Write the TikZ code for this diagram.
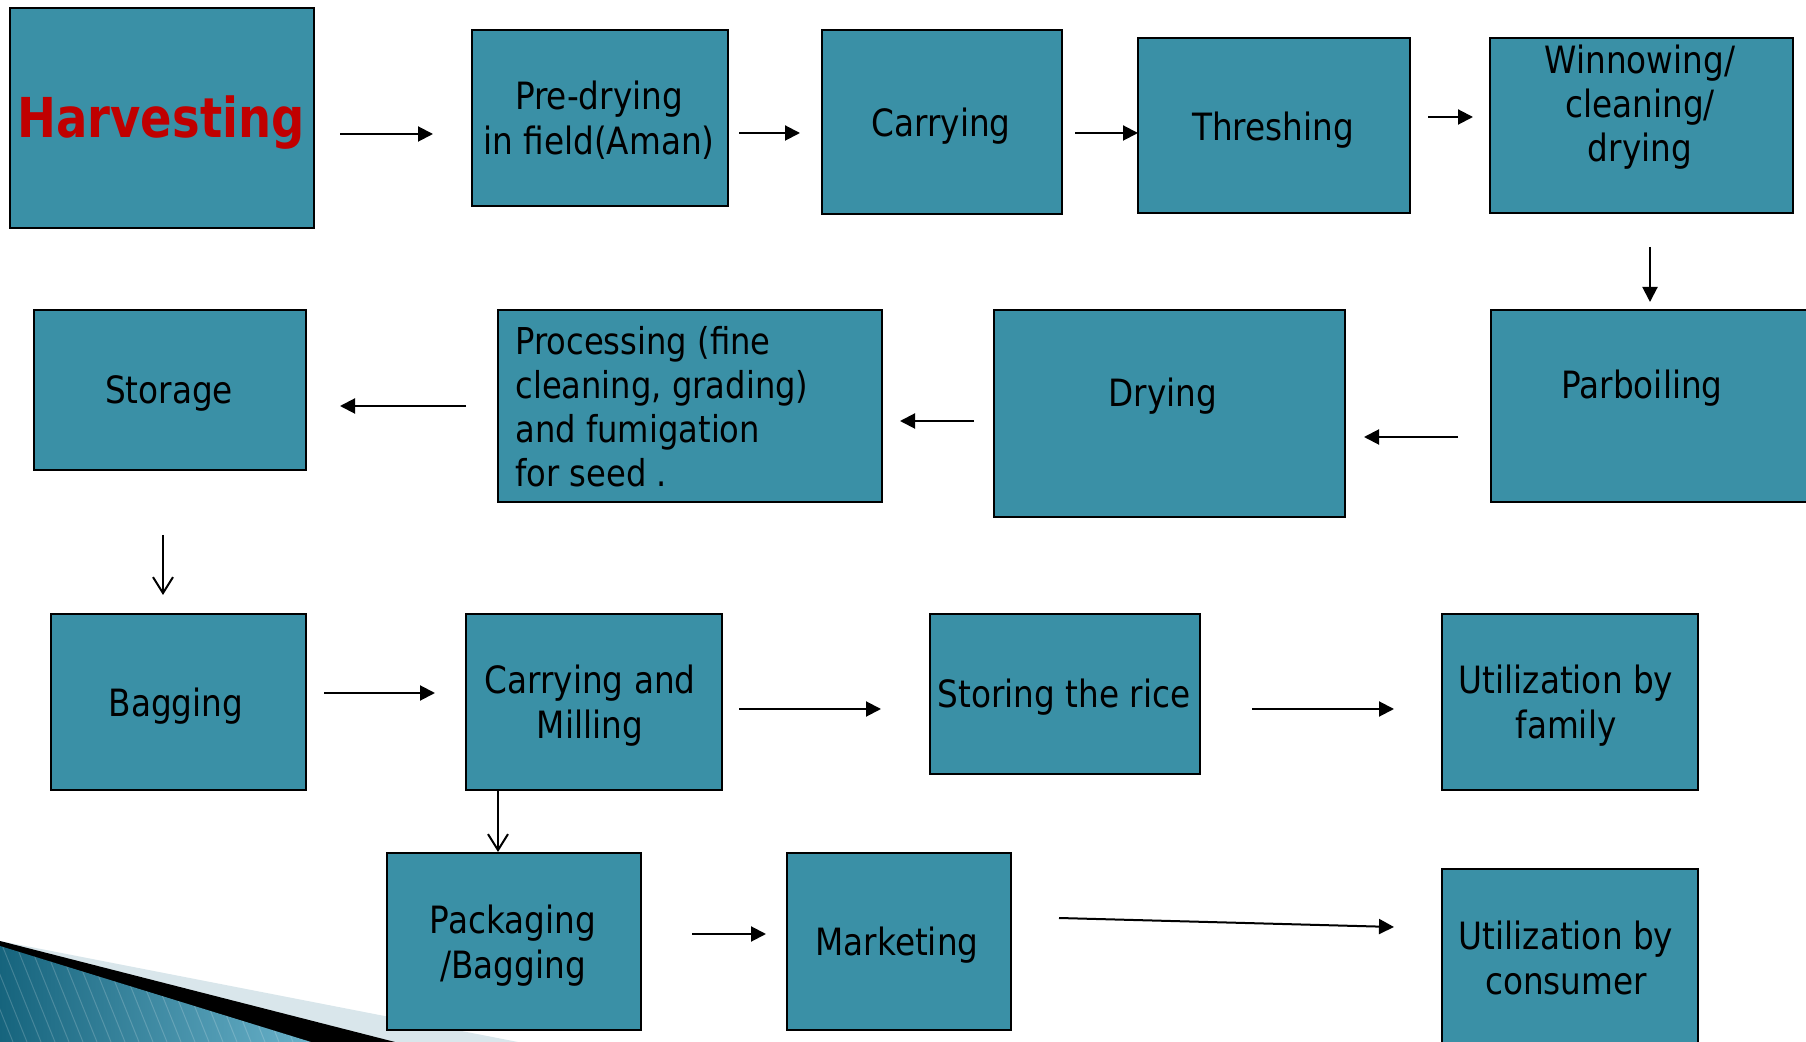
\documentclass[tikz,border=0pt]{standalone}
\usepackage{fontspec}
\setmainfont{DejaVu Sans}[FakeStretch=0.87]
\newfontfamily\harvfont{DejaVu Sans}[FakeStretch=0.845]
\usetikzlibrary{arrows.meta,calc}
\definecolor{boxfill}{RGB}{58,144,166}
\definecolor{harvred}{RGB}{192,0,0}
\definecolor{bandlight}{RGB}{217,230,235}
\definecolor{stripedark}{RGB}{22,100,125}
\definecolor{stripelight}{RGB}{110,182,206}
\newcommand\mkbox[5]{\node[box, minimum width={(#4-#2)*0.5pt}, minimum height={(#5-#3)*0.5pt}] (#1) at (#2,#3) {};}
\begin{document}
\begin{tikzpicture}[x=0.5pt,y=-0.5pt,
  box/.style={draw=black, line width=1pt, fill=boxfill, inner sep=0pt, anchor=north west},
  txt/.style={font=\fontsize{18.8pt}{22.5pt}\selectfont, align=center, inner sep=0pt, text=black},
  arr/.style={line width=1pt, -{Triangle[length=7.5pt,width=7.5pt]}},
  oarr/.style={line width=1pt, -{Straight Barb[length=8pt,width=10pt,line width=1pt]}}]
\useasboundingbox (0,0) rectangle (1806,1042);
\clip (0,0) rectangle (1806,1042);
% corner decoration
\fill[bandlight] (0,941) -- (518,1042) -- (0,1042) -- cycle;
\fill[black] (0,941) -- (395,1042) -- (0,1042) -- cycle;
\begin{scope}
\clip (0,946) -- (311,1042) -- (0,1042) -- cycle;
\shade[left color=stripedark, right color=stripelight] (0,930) rectangle (330,1042);
\foreach \i in {-60,-46,...,340} \draw[white, opacity=0.18, line width=0.5pt] (\i,930) -- (\i+45,1042);
\end{scope}
% boxes
\mkbox{harv}{9}{7}{313}{227}
\mkbox{pre}{471}{29}{727}{205}
\mkbox{carry}{821}{29}{1061}{213}
\mkbox{thresh}{1137}{37}{1409}{212}
\mkbox{winn}{1489}{37}{1792}{212}
\mkbox{parb}{1490}{309}{1830}{501}
\mkbox{dry}{993}{309}{1344}{516}
\mkbox{proc}{497}{309}{881}{501}
\mkbox{stor}{33}{309}{305}{469}
\mkbox{bag}{50}{613}{305}{789}
\mkbox{cm}{465}{613}{721}{789}
\mkbox{rice}{929}{613}{1199}{773}
\mkbox{fam}{1441}{613}{1697}{789}
\mkbox{pack}{386}{852}{640}{1029}
\mkbox{mark}{786}{852}{1010}{1029}
\mkbox{cons}{1441}{868}{1697}{1070}
% texts
\node[inner sep=0pt, anchor=base, text=harvred, font=\harvfont\bfseries\fontsize{27.5pt}{33pt}\selectfont] (harvt) at (161,138) {Harvesting};
\node[txt] (pret) at (599,120.5) {Pre-drying\\in field(Aman)};
\node[txt] (carryt) at (941,126.5) {Carrying};
\node[txt] (thresht) at (1273,130.5) {Threshing};
\node[txt, font=\fontsize{18.8pt}{22pt}\selectfont] (winnt) at (1640,107.5) {Winnowing/\\cleaning/\\drying};
\node[txt] (parbt) at (1642,388.5) {Parboiling};
\node[txt] (dryt) at (1163,396) {Drying};
\node[txt, align=left, anchor=west, font=\fontsize{18.5pt}{22pt}\selectfont] (proct) at (515,407) {Processing (fine\\cleaning, grading)\\and fumigation\\for seed .};
\node[txt] (stort) at (169,393.5) {Storage};
\node[txt] (bagt) at (176,706.5) {Bagging};
\node[txt] (cmt) at (590,705.5) {Carrying and\\Milling};
\node[txt] (ricet) at (1064,697.5) {Storing the rice};
\node[txt] (famt) at (1566,705.5) {Utilization by\\family};
\node[txt] (packt) at (513,945.5) {Packaging\\/Bagging};
\node[txt] (markt) at (897,945.5) {Marketing};
\node[txt] (const) at (1566,958) {Utilization by\\consumer};
% connectors
\draw[arr] ($(harv.east)+(25,16)$) -- ($(pre.west)+(-38,16)$);
\draw[arr] ($(pre.east)+(10,15)$) -- ($(carry.west)+(-21,11)$);
\draw[arr] ($(carry.east)+(12,11)$) -- ($(thresh.west)+(1,7.5)$);
\draw[arr] ($(thresh.east)+(17,-8.5)$) -- ($(winn.west)+(-16,-8.5)$);
\draw[arr] ($(winn.south west)+(161,33)$) -- ($(parb.north west)+(160,-7)$);
\draw[arr] ($(parb.west)+(-32,31)$) -- ($(dry.east)+(18,23.5)$);
\draw[arr] ($(dry.west)+(-19,7.5)$) -- ($(proc.east)+(17,15)$);
\draw[arr] ($(proc.west)+(-31,0)$) -- ($(stor.east)+(33,16)$);
\draw[oarr] ($(stor.south)+(-7,64)$) -- ($(bag.north)+(-15.5,-18)$);
\draw[arr] ($(bag.east)+(17,-9)$) -- ($(cm.west)+(-30,-9)$);
\draw[arr] ($(cm.east)+(16,7)$) -- ($(rice.west)+(-48,15)$);
\draw[arr] ($(rice.east)+(51,15)$) -- ($(fam.west)+(-47,7)$);
\draw[oarr] ($(cm.south west)+(33,0)$) -- ($(pack.north west)+(112,0)$);
\draw[arr] ($(pack.east)+(50,-7.5)$) -- ($(mark.west)+(-20,-7.5)$);
\draw[arr] ($(mark.east)+(47,-23.5)$) -- ($(cons.west)+(-47,-43)$);
\end{tikzpicture}
\end{document}
